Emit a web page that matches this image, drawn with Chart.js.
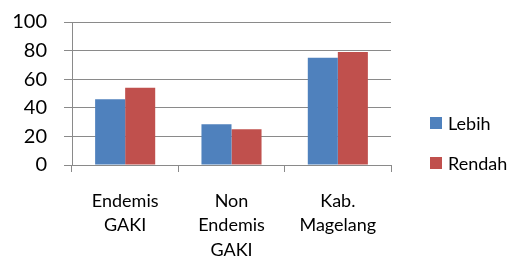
<!DOCTYPE html>
<html>
<head>
<meta charset="utf-8">
<script src="https://cdn.jsdelivr.net/npm/chart.js@4/dist/chart.umd.min.js"></script>
<style>
  html, body { margin: 0; padding: 0; background: #fff; }
  #wrap { position: relative; width: 510px; height: 258px; }
  canvas { position: absolute; left: 0; top: 0; }
  .leg { position: absolute; left: 430px; font-family: Lato, sans-serif; font-size: 18px; color: #000; line-height: 20px; }
  .leg span.box { position: absolute; left: 0; top: 3px; width: 12px; height: 12px; }
  .leg span.txt { position: absolute; left: 18px; top: -1px; white-space: nowrap; }
</style>
</head>
<body>
<div id="wrap">
  <canvas id="c" width="510" height="258"></canvas>
  <div class="leg" style="top:114px"><span class="box" style="background:#4F81BD"></span><span class="txt">Lebih</span></div>
  <div class="leg" style="top:154px"><span class="box" style="background:#C0504D"></span><span class="txt">Rendah</span></div>
</div>
<script>
const categories = [["Endemis", "GAKI"], ["Non", "Endemis", "GAKI"], ["Kab.", "Magelang"]];
const seriesNames = ["Lebih", "Rendah"];
const lebihValues = [46, 28.5, 75];
const rendahValues = [54, 25, 79];
const yTicks = [0, 20, 40, 60, 80, 100];

const gridColor = '#8a8a8a';

new Chart(document.getElementById('c'), {
  type: 'bar',
  data: {
    labels: categories,
    datasets: [
      { label: seriesNames[0], data: lebihValues, backgroundColor: '#4F81BD', borderWidth: 0 },
      { label: seriesNames[1], data: rendahValues, backgroundColor: '#C0504D', borderWidth: 0 }
    ]
  },
  options: {
    responsive: false,
    animation: false,
    devicePixelRatio: 1,
    layout: { padding: { left: 0, right: 119, top: 22, bottom: 0 } },
    plugins: { legend: { display: false }, tooltip: { enabled: false } },
    datasets: { bar: { barPercentage: 1.0, categoryPercentage: 0.565 } },
    scales: {
      x: {
        offset: true,
        grid: { offset: true, drawOnChartArea: false, drawTicks: true, tickLength: 7, color: gridColor, lineWidth: 1 },
        border: { display: true, color: gridColor, width: 1 },
        ticks: { padding: 17, color: '#000', font: { family: 'Lato', size: 18, lineHeight: 1.35 }, maxRotation: 0, autoSkip: false },
        afterFit: s => { s.height = 93; s.paddingLeft = 0; s.paddingRight = 0; }
      },
      y: {
        min: 0, max: 100,
        afterBuildTicks: s => { s.ticks = yTicks.map(v => ({ value: v })); },
        grid: { color: gridColor, lineWidth: 1, tickLength: 8, drawTicks: true },
        border: { display: true, color: gridColor, width: 1 },
        ticks: { padding: 17, color: '#000', font: { family: 'Lato', size: 20 } },
        afterFit: s => { s.width = 72; s.paddingTop = 0; s.paddingBottom = 0; }
      }
    }
  }
});
</script>
</body>
</html>
